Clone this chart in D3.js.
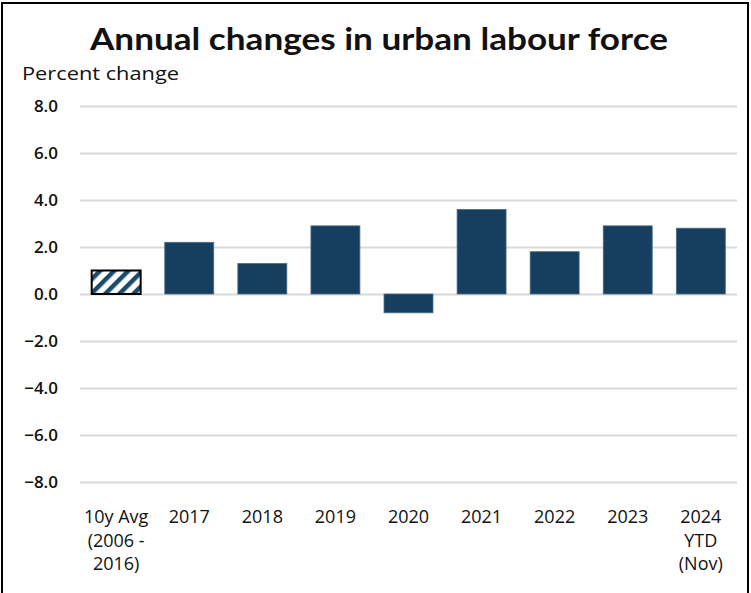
<!DOCTYPE html>
<html><head><meta charset="utf-8">
<script src="https://cdn.jsdelivr.net/npm/d3@7"></script>
<style>body{margin:0;background:#fff}svg{display:block}</style>
</head><body>
<script>
const categories = [["10y Avg","(2006 -","2016)"],["2017"],["2018"],["2019"],["2020"],["2021"],["2022"],["2023"],["2024","YTD","(Nov)"]];
const values = [1.0, 2.2, 1.3, 2.9, -0.8, 3.6, 1.8, 2.9, 2.8];
const hatched = [true, false, false, false, false, false, false, false, false];
const yTicks = [8, 6, 4, 2, 0, -2, -4, -6, -8];
const title = "Annual changes in urban labour force";
const yLabel = "Percent change";

const W = 751, H = 593;
const font = "'Open Sans', Lato, sans-serif";
const svg = d3.select("body").append("svg").attr("width", W).attr("height", H);
svg.append("rect").attr("x",2).attr("y",3).attr("width",746).attr("height",H+5)
  .attr("fill","#fff").attr("stroke","#000").attr("stroke-width",2);

const defs = svg.append("defs");
const pat = defs.append("pattern").attr("id","hatch").attr("patternUnits","userSpaceOnUse")
  .attr("width",10).attr("height",10).attr("patternTransform","rotate(45)");
pat.append("rect").attr("width",10).attr("height",10).attr("fill","#fff");
pat.append("rect").attr("x",0).attr("width",4.5).attr("height",10).attr("fill","#1b4a6b");

const x = d3.scaleBand().domain(d3.range(categories.length)).range([80, 737]).paddingInner(0.33).paddingOuter(0.16);
const y = d3.scaleLinear().domain([-8, 8]).range([482, 106]);

svg.append("text").attr("x", 379).attr("y", 50).attr("text-anchor","middle")
  .attr("font-family", "Lato, sans-serif").attr("font-weight", "bold").attr("font-size", 31)
  .attr("textLength", 578).attr("lengthAdjust","spacingAndGlyphs").attr("fill","#111").text(title);
svg.append("text").attr("x", 22).attr("y", 80).attr("font-family", font).attr("font-size", 18)
  .attr("textLength", 157).attr("lengthAdjust","spacingAndGlyphs").attr("fill","#111").text(yLabel);

const yAxis = svg.append("g").attr("transform","translate(80,0)")
  .call(d3.axisLeft(y).tickValues(yTicks).tickSize(-657).tickFormat(d3.format(".1f")).tickPadding(22));
yAxis.select(".domain").remove();
yAxis.selectAll("line").attr("stroke","#d9d9d9").attr("stroke-width",2);
yAxis.selectAll("text").attr("font-family",font).attr("font-size",17).attr("fill","#111").attr("font-weight","600");

svg.append("g").selectAll("rect").data(values).join("rect")
  .attr("x",(d,i)=>x(i)).attr("width",x.bandwidth())
  .attr("y",d=>y(Math.max(0,d))).attr("height",d=>Math.abs(y(d)-y(0)))
  .attr("fill",(d,i)=>hatched[i]?"url(#hatch)":"#163f5f")
  .attr("stroke",(d,i)=>hatched[i]?"#000":"#4a6d89")
  .attr("stroke-width",(d,i)=>hatched[i]?2:0.8);

const xl = svg.append("g");
categories.forEach((lines,i)=>{
  const t = xl.append("text").attr("text-anchor","middle").attr("font-family",font).attr("font-size",18).attr("fill","#111");
  lines.forEach((ln,j)=>t.append("tspan").attr("x", x(i)+x.bandwidth()/2).attr("y", 523+j*23.5).text(ln));
});
</script>
</body></html>
